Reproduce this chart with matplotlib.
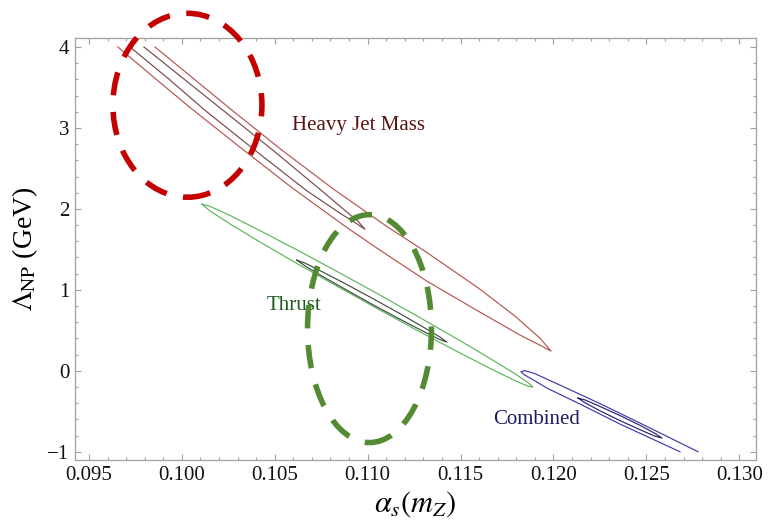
import matplotlib
matplotlib.use("Agg")
import matplotlib.pyplot as plt
from matplotlib.patches import Ellipse
from matplotlib.ticker import MultipleLocator

plt.rcParams['font.family'] = ['Liberation Serif', 'DejaVu Serif']
plt.rcParams['mathtext.fontset'] = 'stix'

# ---- data (alpha_s, Lambda_NP) contour outlines ----
hjm_outer_as = [0.09656, 0.09855, 0.10049, 0.10313, 0.10582, 0.10878, 0.11050, 0.11319,
                0.11604, 0.11820, 0.11927, 0.11987, 0.11927, 0.11793, 0.11604, 0.11308,
                0.11109, 0.10824, 0.10539, 0.10270, 0.10054, 0.09855]
hjm_outer_lam = [4.000, 3.614, 3.243, 2.762, 2.280, 1.786, 1.515, 1.107,
                 0.725, 0.441, 0.317, 0.243, 0.404, 0.675, 1.009, 1.478,
                 1.774, 2.231, 2.725, 3.219, 3.626, 4.000]

hjm_inner_as = [0.09721, 0.09925, 0.10124, 0.10393, 0.10668, 0.10851, 0.10937,
                0.10985, 0.10948, 0.10889, 0.10749, 0.10490, 0.10221, 0.10006,
                0.09796]
hjm_inner_lam = [4.000, 3.614, 3.219, 2.725, 2.231, 1.947, 1.823,
                 1.749, 1.848, 1.959, 2.231, 2.725, 3.219, 3.614,
                 4.000]

thrust_outer_as = [0.10108, 0.10151, 0.10259, 0.10420, 0.10619, 0.10851, 0.11066, 0.11281,
                   0.11497, 0.11658, 0.11793, 0.11863, 0.11890,
                   0.11863, 0.11793, 0.11658, 0.11497, 0.11281, 0.11066, 0.10851,
                   0.10619, 0.10420, 0.10259, 0.10151, 0.10108]
thrust_outer_lam = [2.058, 2.032, 1.919, 1.732, 1.494, 1.207, 0.936, 0.657,
                    0.373, 0.153, -0.037, -0.146, -0.201,
                    -0.190, -0.121, 0.030, 0.220, 0.481, 0.751, 1.025,
                    1.326, 1.591, 1.815, 1.975, 2.058]

thrust_inner_as = [0.10619, 0.10663, 0.10743, 0.10878, 0.11023, 0.11174, 0.11308, 0.11389,
                   0.11427, 0.11389, 0.11308, 0.11174, 0.11023, 0.10878, 0.10743, 0.10663,
                   0.10619]
thrust_inner_lam = [1.367, 1.330, 1.238, 1.078, 0.898, 0.706, 0.528, 0.417,
                    0.354, 0.385, 0.477, 0.637, 0.823, 1.009, 1.184, 1.296,
                    1.367]

comb_outer_as = [0.12681, 0.12573, 0.12358, 0.12143, 0.11970, 0.11884, 0.11841, 0.11825,
                 0.11847, 0.11900, 0.12035, 0.12250, 0.12466, 0.12778]
comb_outer_lam = [-1.000, -0.886, -0.658, -0.411, -0.220, -0.102, -0.047, -0.010,
                  0.002, -0.035, -0.177, -0.405, -0.646, -1.000]

comb_inner_as = [0.12132, 0.12170, 0.12250, 0.12358, 0.12466, 0.12546, 0.12584,
                 0.12546, 0.12466, 0.12358, 0.12250, 0.12170, 0.12132]
comb_inner_lam = [-0.337, -0.360, -0.440, -0.553, -0.674, -0.773, -0.831,
                  -0.807, -0.728, -0.615, -0.494, -0.395, -0.337]

# labels
label_names = ["Heavy Jet Mass", "Thrust", "Combined"]
label_as = [0.10953, 0.10606, 0.11908]
label_lam = [3.027, 0.811, -0.596]
label_colors = ["#5a1414", "#1f5a1f", "#1c1c5e"]

# highlight ellipses: (center alpha_s, center Lambda, width, height)
red_ring = (0.10030, 3.280, 0.00802, 2.272)
green_ring = (0.11010, 0.521, 0.00667, 2.815)

x_ticks = [0.095, 0.100, 0.105, 0.110, 0.115, 0.120, 0.125, 0.130]
y_ticks = [-1, 0, 1, 2, 3, 4]

# ---- figure ----
fig = plt.figure(figsize=(7.69, 5.22), dpi=100)
ax = fig.add_axes([75/769, 1-460/522, (756-75)/769, (460-38)/522])

lw = 0.85
ax.plot(hjm_outer_as, hjm_outer_lam, color="#b4554d", lw=lw, solid_joinstyle='round')
ax.plot(hjm_inner_as, hjm_inner_lam, color="#7a4848", lw=lw, solid_joinstyle='round')
ax.plot(thrust_outer_as, thrust_outer_lam, color="#5fb35f", lw=lw, solid_joinstyle='round')
ax.plot(thrust_inner_as, thrust_inner_lam, color="#3f4f3f", lw=lw, solid_joinstyle='round')
ax.plot(comb_outer_as, comb_outer_lam, color="#3b3ba5", lw=lw, solid_joinstyle='round')
ax.plot(comb_inner_as, comb_inner_lam, color="#24246e", lw=lw, solid_joinstyle='round')

for name, xa, ya, c in zip(label_names, label_as, label_lam, label_colors):
    ax.text(xa, ya, name, color=c, fontsize=15, ha='center', va='center')

for (cx, cy, w, h), col in [(red_ring, "#c40000"), (green_ring, "#548a32")]:
    e = Ellipse((cx, cy), w, h, fill=False, edgecolor=col, lw=4.0,
                linestyle=(0, (4.2, 3.0)), zorder=5, clip_on=False)
    ax.add_patch(e)

ax.set_xlim(0.09425, 0.13090)
ax.set_ylim(-1.102, 4.111)
ax.set_xticks(x_ticks)
ax.set_xticklabels([f"{v:.3f}" for v in x_ticks])
ax.set_yticks(y_ticks)
ax.set_yticklabels(["\u22121" if v < 0 else str(v) for v in y_ticks])
ax.xaxis.set_minor_locator(MultipleLocator(0.001))
ax.yaxis.set_minor_locator(MultipleLocator(0.2))

frame_col = "#a0a0a0"
for s in ax.spines.values():
    s.set_color(frame_col)
    s.set_linewidth(0.9)
ax.tick_params(which='both', direction='in', top=True, right=True, color=frame_col,
               width=0.8, labelsize=15, labelcolor='#111111')
ax.tick_params(which='major', length=4.5, pad=4)
ax.tick_params(which='minor', length=2.5)

ax.set_xlabel(r"$\alpha_s(m_Z)$", fontsize=22, labelpad=3)
ax.set_ylabel(r"$\Lambda_{\mathrm{NP}}$ (GeV)", fontsize=20, labelpad=5)

fig.savefig("out.png", dpi=100)
